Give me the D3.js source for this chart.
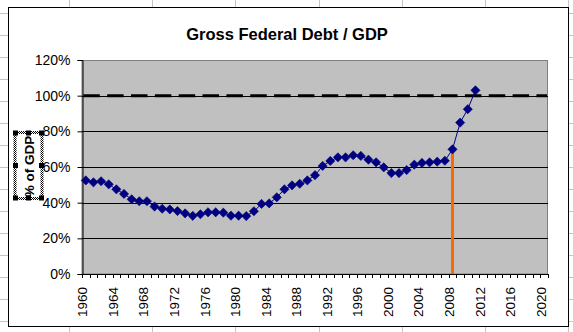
<!DOCTYPE html>
<html>
<head>
<meta charset="utf-8">
<script src="https://cdn.jsdelivr.net/npm/d3@7"></script>
<style>
  html, body { margin: 0; padding: 0; background: #fff; }
  svg { display: block; }
  text { font-family: Arial, "Liberation Sans", sans-serif; }
</style>
</head>
<body>
<svg id="chart" width="573" height="332"></svg>
<script>
// ---- data ----
const chartTitle = "Gross Federal Debt / GDP";
const yAxisTitle = "% of GDP";
const debtYears = [1960,1961,1962,1963,1964,1965,1966,1967,1968,1969,
  1970,1971,1972,1973,1974,1975,1976,1977,1978,1979,
  1980,1981,1982,1983,1984,1985,1986,1987,1988,1989,
  1990,1991,1992,1993,1994,1995,1996,1997,1998,1999,
  2000,2001,2002,2003,2004,2005,2006,2007,2008,2009,
  2010,2011];
const debtPct = [52.5,51.4,52.0,50.3,47.5,44.9,41.9,40.8,40.8,37.8,
  36.6,36.2,35.3,34.0,32.6,33.5,34.6,34.6,34.4,32.7,
  32.7,32.5,35.2,39.3,39.6,43.0,47.5,49.7,50.6,52.5,
  55.4,60.6,63.4,65.4,65.4,66.6,66.2,64.1,62.6,59.8,
  56.6,56.6,58.3,61.3,62.3,62.6,63.0,63.5,69.9,84.9,
  92.4,103.0];
const axisYears = d3.range(1960, 2021);          // category axis 1960..2020
const xLabelYears = [1960,1964,1968,1972,1976,1980,1984,1988,1992,1996,2000,2004,2008,2012,2016,2020];
const yTicks = [0,20,40,60,80,100,120];
const gridValues = [20,40,60,80,100];
const referenceLevel = [100];                     // dashed 100% line
const markerYear = [2008];                        // orange vertical marker

// ---- layout ----
const svg = d3.select("#chart");
const W = 573, H = 332;
const plot = {left: 82, right: 548, top: 60, bottom: 274};

// spreadsheet background grid
const bg = svg.append("g");
const colLines = [69.5,152.5,235.5,319.5,402.5,485.5,568.5];
const rowLines = d3.range(0, 15).map(i => Math.round(12.7 + 22*i) + 0.5);
bg.selectAll("line.c").data(colLines).join("line")
  .attr("x1", d => d).attr("x2", d => d).attr("y1", 0).attr("y2", H)
  .attr("stroke", "#c4c4c4").attr("stroke-width", 1);
bg.selectAll("line.r").data(rowLines).join("line")
  .attr("x1", 0).attr("x2", W).attr("y1", d => d).attr("y2", d => d)
  .attr("stroke", "#c4c4c4").attr("stroke-width", 1);

// chart area
svg.append("rect").attr("x", 8.5).attr("y", 7.5).attr("width", 560).attr("height", 319)
  .attr("fill", "#fff").attr("stroke", "#000").attr("stroke-width", 1);

// title
svg.append("text").attr("x", 287).attr("y", 40).attr("text-anchor", "middle")
  .attr("font-size", "16.5px").attr("font-weight", "bold").attr("fill", "#000")
  .text(chartTitle);

// scales
const x = d3.scaleBand().domain(axisYears).range([plot.left, plot.right]).paddingInner(0).paddingOuter(0);
const bw = x.bandwidth();
const cx = yr => x(yr) + bw / 2;
const y = d3.scaleLinear().domain([0, 120]).range([plot.bottom, plot.top]);

// plot area
svg.append("rect").attr("x", plot.left).attr("y", plot.top + 0.5)
  .attr("width", plot.right - plot.left - 0.5).attr("height", plot.bottom - plot.top - 0.5)
  .attr("fill", "#c0c0c0").attr("stroke", "#808080").attr("stroke-width", 1);

// gridlines
svg.append("g").selectAll("line").data(gridValues).join("line")
  .attr("x1", plot.left).attr("x2", plot.right)
  .attr("y1", d => Math.round(y(d)) + 0.5).attr("y2", d => Math.round(y(d)) + 0.5)
  .attr("stroke", "#000").attr("stroke-width", 1);

// y axis
const yAxis = d3.axisLeft(y).tickValues(yTicks).tickSize(5).tickPadding(7)
  .tickFormat(d => d + "%");
const gy = svg.append("g").attr("transform", `translate(${plot.left + 0.5},0)`).call(yAxis);
gy.select(".domain").attr("stroke", "#000");
gy.selectAll(".tick line").attr("stroke", "#000");
gy.selectAll(".tick text").attr("font-size", "14px").attr("fill", "#000")
  .attr("font-family", "Arial, 'Liberation Sans', sans-serif");

// x axis: ticks at category boundaries
const gx = svg.append("g");
gx.append("line").attr("x1", plot.left).attr("x2", plot.right)
  .attr("y1", plot.bottom + 0.5).attr("y2", plot.bottom + 0.5).attr("stroke", "#000");
const boundaries = axisYears.map(d => x(d)).concat([x(axisYears[axisYears.length - 1]) + bw]);
gx.selectAll("line.t").data(boundaries).join("line")
  .attr("x1", d => Math.round(d) + 0.5).attr("x2", d => Math.round(d) + 0.5)
  .attr("y1", plot.bottom).attr("y2", plot.bottom + 4)
  .attr("stroke", "#000");
gx.selectAll("text").data(xLabelYears).join("text")
  .attr("transform", d => `translate(${cx(d) - 3},${plot.bottom + 13}) rotate(-90)`)
  .attr("text-anchor", "end").attr("dominant-baseline", "central")
  .attr("font-size", "13.5px").attr("fill", "#000")
  .text(d => d);

// dashed 100% reference line
svg.append("g").selectAll("line").data(referenceLevel).join("line")
  .attr("x1", plot.left + 1.3).attr("x2", plot.right - 1)
  .attr("y1", d => y(d)).attr("y2", d => y(d))
  .attr("stroke", "#000").attr("stroke-width", 3)
  .attr("stroke-dasharray", "16.5,7.35");

// orange marker line
const debtMap = new Map(debtYears.map((d, i) => [d, debtPct[i]]));
svg.append("g").selectAll("line").data(markerYear).join("line")
  .attr("x1", d => cx(d)).attr("x2", d => cx(d))
  .attr("y1", d => y(debtMap.get(d))).attr("y2", plot.bottom)
  .attr("stroke", "#ff6600").attr("stroke-width", 3);

// series line
const pts = debtYears.map((d, i) => ({year: d, v: debtPct[i]}));
svg.append("path").datum(pts)
  .attr("d", d3.line().x(d => cx(d.year)).y(d => y(d.v)))
  .attr("fill", "none").attr("stroke", "#000080").attr("stroke-width", 1);

// markers (diamonds)
const r = 4.6;
svg.append("g").selectAll("path").data(pts).join("path")
  .attr("d", d => {
    const px = cx(d.year), py = y(d.v);
    return `M${px},${py - r}L${px + r},${py}L${px},${py + r}L${px - r},${py}Z`;
  })
  .attr("fill", "#000080").attr("stroke", "#000080").attr("stroke-width", 0.6);

// y axis title with selection frame
const box = {x: 15.5, y: 133, w: 26, h: 65};
const defs = svg.append("defs");
const pat = defs.append("pattern").attr("id", "hatch").attr("width", 2).attr("height", 2)
  .attr("patternUnits", "userSpaceOnUse");
pat.append("rect").attr("width", 2).attr("height", 2).attr("fill", "#fff");
pat.append("rect").attr("width", 1).attr("height", 1).attr("fill", "#000");
pat.append("rect").attr("x", 1).attr("y", 1).attr("width", 1).attr("height", 1).attr("fill", "#000");
svg.append("rect").attr("x", box.x - 2).attr("y", box.y - 2).attr("width", box.w + 4).attr("height", box.h + 4)
  .attr("fill", "url(#hatch)");
svg.append("rect").attr("x", box.x + 1).attr("y", box.y + 1).attr("width", box.w - 2).attr("height", box.h - 2)
  .attr("fill", "#fff");
svg.append("text")
  .attr("transform", `translate(${box.x + box.w / 2 + 1},${box.y + box.h / 2 + 1}) rotate(-90)`)
  .attr("text-anchor", "middle").attr("dominant-baseline", "central")
  .attr("font-size", "13.5px").attr("font-weight", "bold").attr("fill", "#000")
  .text(yAxisTitle);
const hx = [box.x, box.x + box.w / 2, box.x + box.w];
const hy = [box.y, box.y + box.h / 2, box.y + box.h];
const handles = [];
hx.forEach((a, i) => hy.forEach((b, j) => { if (!(i === 1 && j === 1)) handles.push([a, b]); }));
svg.append("g").selectAll("rect").data(handles).join("rect")
  .attr("x", d => d[0] - 2.5).attr("y", d => d[1] - 2.5).attr("width", 5).attr("height", 5)
  .attr("fill", "#000");
</script>
</body>
</html>
